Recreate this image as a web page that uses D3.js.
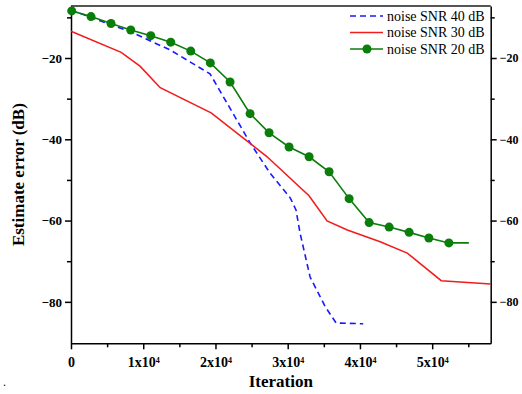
<!DOCTYPE html>
<html>
<head>
<meta charset="utf-8">
<script src="https://cdn.jsdelivr.net/npm/d3@7"></script>
<style>
  body { margin: 0; background: #fff; }
  svg { display: block; font-family: "Liberation Serif", "Times New Roman", serif; }
  .axis path, .axis line { stroke: #000; stroke-width: 1.5; }
  .axis text { font-family: "Liberation Serif", "Times New Roman", serif; font-weight: bold; font-size: 13px; fill: #000; }
</style>
</head>
<body>
<svg id="chart" width="522" height="394"></svg>
<script>
// values (iteration, dB)
const snr40Iter = [0, 8300, 13700, 19250, 24800, 27550, 30350, 31150, 31700, 33100, 35200, 36700, 40450];
const snr40Db = [-8.2, -13.6, -18.0, -23.9, -40.9, -48.3, -54.4, -57.4, -63.0, -73.9, -81.2, -85.2, -85.4];

const snr30Iter = [0, 6950, 9550, 12350, 19400, 27150, 32950, 35450, 38250, 42800, 46550, 51250, 58100];
const snr30Db = [-13.4, -18.6, -22.0, -27.3, -33.5, -44.3, -53.9, -60.1, -62.3, -65.2, -68.0, -74.8, -75.6];

const snr20Iter = [100, 2770, 5540, 8270, 11040, 13810, 16580, 19290, 22020, 24790, 27420, 30190, 32960,
  35730, 38500, 41270, 44040, 46810, 49540, 52310, 55080];
const snr20Db = [-8.4, -9.8, -11.5, -13.1, -14.5, -16.1, -18.3, -21.2, -25.9, -33.7, -38.4, -41.9, -44.3,
  -48.0, -54.6, -60.5, -61.6, -62.9, -64.3, -65.5, -65.5];

const xMajor = [0, 10000, 20000, 30000, 40000, 50000];
const xMinor = [5000, 15000, 25000, 35000, 45000, 55000];
const yMajor = [-80, -60, -40, -20];
const yMinor = [-70, -50, -30, -10];

const legendLabels = ['noise SNR 40 dB', 'noise SNR 30 dB', 'noise SNR 20 dB'];

const zip = (a, b) => a.map((v, i) => [v, b[i]]);

const series = [
  { name: legendLabels[0], data: zip(snr40Iter, snr40Db), color: '#1a1aff', dash: '6,4', marker: false },
  { name: legendLabels[1], data: zip(snr30Iter, snr30Db), color: '#f21d1d', dash: null, marker: false },
  { name: legendLabels[2], data: zip(snr20Iter, snr20Db), color: '#0b7d0b', dash: null, marker: true }
];

let svg = d3.select('#chart');
let plotLeft = 71, plotRight = 490.7, plotTop = 6, plotBottom = 343.3;

let x = d3.scaleLinear().domain([0, 58100]).range([plotLeft, plotRight]);
let y = d3.scaleLinear().domain([-90.2, -7.2]).range([plotBottom, plotTop]);

// top frame line is grey in the original
svg.append('line')
  .attr('x1', plotLeft).attr('x2', plotRight)
  .attr('y1', plotTop).attr('y2', plotTop)
  .style('stroke', '#555').style('stroke-width', 2);

// minor ticks first, no labels
svg.append('g').attr('class', 'axis')
  .attr('transform', `translate(0,${plotBottom})`)
  .call(d3.axisBottom(x).tickValues(xMinor).tickSize(4).tickFormat(''))
  .select('.domain').remove();
svg.append('g').attr('class', 'axis')
  .attr('transform', `translate(${plotLeft},0)`)
  .call(d3.axisLeft(y).tickValues(yMinor).tickSize(4).tickFormat(''))
  .select('.domain').remove();
svg.append('g').attr('class', 'axis')
  .attr('transform', `translate(${plotRight},0)`)
  .call(d3.axisRight(y).tickValues(yMinor).tickSize(4).tickFormat(''))
  .select('.domain').remove();

let xAxis = svg.append('g').attr('class', 'axis')
  .attr('transform', `translate(0,${plotBottom})`)
  .call(d3.axisBottom(x).tickValues(xMajor).tickSize(6).tickSizeOuter(0).tickPadding(5).tickFormat(''));

// 1x10^4 style labels
xAxis.selectAll('.tick text').style('font-size', '14px').each(function (d) {
  let t = d3.select(this).attr('dy', '0.9em');
  if (d === 0) {
    t.text('0');
    return;
  }
  t.append('tspan').text(`${d / 10000}x10`);
  t.append('tspan').attr('dy', '-0.45em').style('font-size', '8px').text('4');
});

svg.append('g').attr('class', 'axis')
  .attr('transform', `translate(${plotLeft},0)`)
  .call(d3.axisLeft(y).tickValues(yMajor).tickSize(6).tickSizeOuter(0).tickPadding(3));

// right-hand labels sit close to the edge, as in the source figure
svg.append('g').attr('class', 'axis')
  .attr('transform', `translate(${plotRight},0)`)
  .call(d3.axisRight(y).tickValues(yMajor).tickSize(6).tickSizeOuter(0).tickPadding(3))
  .selectAll('.tick text').style('font-size', '12px');

let line = d3.line().x(d => x(d[0])).y(d => y(d[1]));

series.forEach(s => {
  svg.append('path')
    .datum(s.data)
    .attr('d', line)
    .style('fill', 'none')
    .style('stroke', s.color)
    .style('stroke-width', 1.6)
    .style('stroke-dasharray', s.dash);

  if (s.marker) {
    // last point closes the line, no marker there
    svg.selectAll(null)
      .data(s.data.slice(0, -1))
      .enter().append('circle')
      .attr('cx', d => x(d[0]))
      .attr('cy', d => y(d[1]))
      .attr('r', 4.5)
      .style('fill', s.color);
  }
});

// legend
let legend = svg.append('g').attr('transform', 'translate(350,16)');
series.forEach((s, i) => {
  let g = legend.append('g').attr('transform', `translate(0,${i * 16.5})`);
  g.append('line')
    .attr('x1', 0).attr('x2', 33)
    .style('stroke', s.color).style('stroke-width', 1.6)
    .style('stroke-dasharray', s.dash);
  if (s.marker) {
    g.append('circle').attr('cx', 17).attr('r', 4.5).style('fill', s.color);
  }
  g.append('text')
    .attr('x', 37).attr('dy', '0.33em')
    .style('font-size', '14px')
    .text(s.name);
});

svg.append('text')
  .attr('x', (plotLeft + plotRight) / 2).attr('y', 387)
  .attr('text-anchor', 'middle')
  .style('font-weight', 'bold').style('font-size', '17px')
  .text('Iteration');

svg.append('text')
  .attr('transform', `translate(24,${(plotTop + plotBottom) / 2}) rotate(-90)`)
  .attr('text-anchor', 'middle')
  .style('font-weight', 'bold').style('font-size', '17px')
  .text('Estimate error (dB)');

svg.append('text')
  .attr('x', 3).attr('y', 386)
  .style('font-size', '12px')
  .text('.');
</script>
</body>
</html>
